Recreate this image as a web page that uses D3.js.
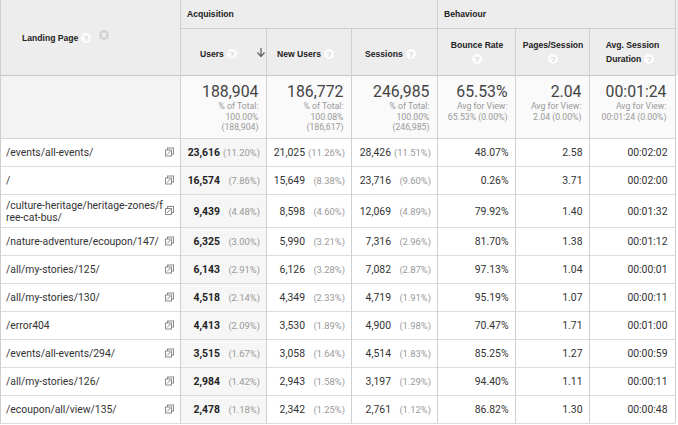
<!DOCTYPE html>
<html>
<head>
<meta charset="utf-8">
<script src="https://cdn.jsdelivr.net/npm/d3@7"></script>
<style>
html, body { margin: 0; padding: 0; background: #fff; overflow: hidden; }
svg { display: block; }
</style>
</head>
<body>
<div id="chart"></div>
<script>
// ---- data ----
var pages = ["/events/all-events/", "/", "/culture-heritage/heritage-zones/free-cat-bus/",
  "/nature-adventure/ecoupon/147/", "/all/my-stories/125/", "/all/my-stories/130/",
  "/error404", "/events/all-events/294/", "/all/my-stories/126/", "/ecoupon/all/view/135/"];
var users = [23616, 16574, 9439, 6325, 6143, 4518, 4413, 3515, 2984, 2478];
var usersPct = [11.20, 7.86, 4.48, 3.00, 2.91, 2.14, 2.09, 1.67, 1.42, 1.18];
var newUsers = [21025, 15649, 8598, 5990, 6126, 4349, 3530, 3058, 2943, 2342];
var newUsersPct = [11.26, 8.38, 4.60, 3.21, 3.28, 2.33, 1.89, 1.64, 1.58, 1.25];
var sessions = [28426, 23716, 12069, 7316, 7082, 4719, 4900, 4514, 3197, 2761];
var sessionsPct = [11.51, 9.60, 4.89, 2.96, 2.87, 1.91, 1.98, 1.83, 1.29, 1.12];
var bounceRate = [48.07, 0.26, 79.92, 81.70, 97.13, 95.19, 70.47, 85.25, 94.40, 86.82];
var pagesPerSession = [2.58, 3.71, 1.40, 1.38, 1.04, 1.07, 1.71, 1.27, 1.11, 1.30];
var sessionDuration = [122, 120, 92, 72, 1, 11, 60, 59, 11, 48]; // seconds

// totals row: users, new users, sessions, bounce rate, pages/session, avg duration (s)
var totalValues = [188904, 186772, 246985, 65.53, 2.04, 84];
var totalShare = [100.00, 100.08, 100.00];
var totalBase = [188904, 186617, 246985];
var viewChange = [0.00, 0.00, 0.00];

var groupLabels = ["Acquisition", "Behaviour"];

// ---- layout ----
var width = 678, height = 425;
var colKeys = ["page", "users", "newUsers", "sessions", "bounce", "pps", "duration"];
var colEdges = [0, 181, 267, 352, 438, 516, 590, 675];
var headTop = 28, headBottom = 75, totalsBottom = 138;
var rowH = 28, rowH2 = 33;

var fmtInt = d3.format(","), fmt2 = d3.format(".2f");
var fmtPct = function(v) { return "(" + fmt2(v) + "%)"; };
var fmtTime = function(s) {
  var p = d3.format("02d");
  return p(Math.floor(s / 3600)) + ":" + p(Math.floor(s / 60) % 60) + ":" + p(s % 60);
};

var x0 = d3.scaleOrdinal().domain(colKeys).range(colEdges.slice(0, -1));
var x1 = d3.scaleOrdinal().domain(colKeys).range(colEdges.slice(1));

var svg = d3.select("#chart").append("svg")
  .attr("width", width).attr("height", height)
  .style("font-family", "Roboto, Arial, sans-serif");

var dataFont = "Roboto, 'Liberation Sans', Arial, sans-serif";
var headFont = "'Liberation Sans', Arial, sans-serif";

// wrap landing pages by measured width
var measure = svg.append("text").style("font-size", "10.4px").style("font-family", dataFont);
function wrapChars(str, maxW) {
  var lines = [], cur = "";
  for (var i = 0; i < str.length; i++) {
    measure.text(cur + str[i]);
    if (cur && measure.node().getComputedTextLength() > maxW) { lines.push(cur); cur = str[i]; }
    else cur += str[i];
  }
  lines.push(cur);
  return lines;
}
var pageLines = pages.map(function(p) { return wrapChars(p, 158); });
measure.remove();

var rowHeights = pageLines.map(function(l) { return l.length > 1 ? rowH2 : rowH; });
var rowTops = [totalsBottom].concat(Array.from(d3.cumsum(rowHeights), function(h) { return totalsBottom + h; }));
var y = d3.scaleOrdinal().domain(d3.range(pages.length)).range(rowTops.slice(0, -1));
var yEnd = rowTops[rowTops.length - 1];

// ---- backgrounds ----
svg.append("rect").attr("x", 0).attr("y", 0).attr("width", width).attr("height", headBottom).attr("fill", "#ededed");
svg.append("rect").attr("x", 0).attr("y", headBottom).attr("width", x1("page")).attr("height", totalsBottom - headBottom).attr("fill", "#f3f3f3");
svg.append("rect").attr("x", x0("users")).attr("y", headBottom).attr("width", x1("duration") - x0("users"))
  .attr("height", totalsBottom - headBottom).attr("fill", "#fafafa");
// sorted column tint
svg.selectAll("rect.sort").data(d3.range(pages.length)).enter().append("rect")
  .attr("x", x0("users")).attr("y", function(i) { return y(i); })
  .attr("width", x1("users") - x0("users")).attr("height", function(i) { return rowHeights[i]; })
  .attr("fill", "#f6f6f6");

// ---- grid lines ----
var grid = svg.append("g").attr("fill", "none").attr("shape-rendering", "crispEdges");
// horizontal
grid.append("line").attr("x1", x0("users")).attr("x2", x1("duration")).attr("y1", headTop + 0.5).attr("y2", headTop + 0.5).attr("stroke", "#cfcfcf");
grid.append("line").attr("x1", 0).attr("x2", x1("duration")).attr("y1", headBottom + 0.5).attr("y2", headBottom + 0.5).attr("stroke", "#c8c8c8");
grid.append("line").attr("x1", 0).attr("x2", x1("duration")).attr("y1", totalsBottom + 0.5).attr("y2", totalsBottom + 0.5).attr("stroke", "#d6d6d6");
grid.selectAll("line.row").data(rowTops.slice(1)).enter().append("line")
  .attr("x1", 0).attr("x2", x1("duration"))
  .attr("y1", function(d) { return d + 0.5; }).attr("y2", function(d) { return d + 0.5; })
  .attr("stroke", "#dcdcdc");
// vertical
var vTop = { page: 0, users: 0, newUsers: headTop, sessions: headTop, bounce: 0, pps: headTop, duration: headTop };
grid.append("line").attr("x1", 0.5).attr("x2", 0.5).attr("y1", 0).attr("y2", yEnd).attr("stroke", "#cfcfcf");
grid.selectAll("line.col").data(colKeys.slice(1)).enter().append("line")
  .attr("x1", function(k) { return x0(k) - 0.5; }).attr("x2", function(k) { return x0(k) - 0.5; })
  .attr("y1", function(k) { return vTop[k]; }).attr("y2", yEnd).attr("stroke", "#d0d0d0");
grid.append("line").attr("x1", x1("duration") + 0.5).attr("x2", x1("duration") + 0.5).attr("y1", 0).attr("y2", yEnd).attr("stroke", "#cfcfcf");

// ---- header ----
var head = svg.append("g").style("font-family", headFont).style("font-size", "8.6px").style("font-weight", "bold").attr("fill", "#222");
head.append("text").attr("x", x0("users") + 6).attr("y", 17).text(groupLabels[0]);
head.append("text").attr("x", x0("bounce") + 6).attr("y", 17).text(groupLabels[1]);

function help(g, cx, cy) {
  g.append("circle").attr("cx", cx).attr("cy", cy).attr("r", 5).attr("fill", "#fcfcfc");
  g.append("text").attr("x", cx).attr("y", cy + 3).attr("text-anchor", "middle")
    .style("font-size", "8px").style("font-weight", "normal").attr("fill", "#c0c0c0").text("?");
}
head.append("text").attr("x", 22).attr("y", 41).text("Landing Page");
help(head, 86, 38);
head.append("circle").attr("cx", 104).attr("cy", 35).attr("r", 5).attr("fill", "#d2d2d2");
head.append("path").attr("d", "M101.8,32.8L106.2,37.2M106.2,32.8L101.8,37.2").attr("stroke", "#f4f4f4").attr("stroke-width", 1.3);

head.append("text").attr("x", x0("users") + 19).attr("y", 57).text("Users");
help(head, 232, 54);
head.append("path").attr("d", "M261,48V56M257.5,52.5L261,56.5L264.5,52.5").attr("fill", "none").attr("stroke", "#666").attr("stroke-width", 1.3);
head.append("text").attr("x", x0("newUsers") + 10).attr("y", 57).text("New Users");
help(head, 329, 54);
head.append("text").attr("x", x0("sessions") + 13).attr("y", 57).text("Sessions");
help(head, 411, 54);

var mid = function(k) { return (x0(k) + x1(k)) / 2; };
head.append("text").attr("x", mid("bounce")).attr("y", 48).attr("text-anchor", "middle").text("Bounce Rate");
help(head, mid("bounce"), 59);
head.append("text").attr("x", mid("pps")).attr("y", 48).attr("text-anchor", "middle").text("Pages/Session");
help(head, mid("pps"), 59);
head.append("text").attr("x", mid("duration")).attr("y", 48).attr("text-anchor", "middle").text("Avg. Session");
head.append("text").attr("x", x0("duration") + 16).attr("y", 62).text("Duration");
help(head, 649, 59);

// ---- totals row ----
var totals = svg.append("g").style("font-family", dataFont);
var totalKeys = colKeys.slice(1);
var totalText = [fmtInt(totalValues[0]), fmtInt(totalValues[1]), fmtInt(totalValues[2]),
  fmt2(totalValues[3]) + "%", fmt2(totalValues[4]), fmtTime(totalValues[5])];
var totalSub = [0, 1, 2].map(function(i) {
  return ["% of Total:", fmt2(totalShare[i]) + "%", "(" + fmtInt(totalBase[i]) + ")"];
}).concat([3, 4, 5].map(function(i, j) {
  return ["Avg for View:", totalText[i] + " (" + fmt2(viewChange[j]) + "%)"];
}));
totalKeys.forEach(function(k, i) {
  var rx = x1(k) - 8.5;
  totals.append("text").attr("x", rx).attr("y", 97).attr("text-anchor", "end")
    .style("font-size", "15.8px").attr("fill", "#444").text(totalText[i]);
  totals.selectAll(null).data(totalSub[i]).enter().append("text")
    .attr("x", rx).attr("y", function(d, j) { return 109 + j * 10.6; })
    .attr("text-anchor", "end").style("font-size", "8.7px").attr("fill", "#999")
    .text(function(d) { return d; });
});

// ---- body rows ----
var body = svg.append("g").style("font-family", dataFont).style("font-size", "10.4px");
var rows = body.selectAll("g.row").data(d3.range(pages.length)).enter().append("g")
  .attr("transform", function(i) { return "translate(0," + y(i) + ")"; });
var cy = function(i) { return rowHeights[i] / 2 + 4; };

rows.each(function(i) {
  var g = d3.select(this), lines = pageLines[i];
  var t0 = rowHeights[i] / 2 + 4 - (lines.length - 1) * 6;
  g.selectAll("text.page").data(lines).enter().append("text")
    .attr("x", 6).attr("y", function(d, j) { return t0 + j * 12; })
    .attr("fill", "#333").text(function(d) { return d; });
  // open-in-new icon
  var ix = 165, iy = rowHeights[i] / 2 - 4.5;
  g.append("rect").attr("x", ix + 2.5).attr("y", iy + 0.5).attr("width", 6).attr("height", 6)
    .attr("fill", "none").attr("stroke", "#8a8a8a");
  g.append("rect").attr("x", ix + 0.5).attr("y", iy + 2.5).attr("width", 6).attr("height", 6)
    .attr("fill", "#fff").attr("stroke", "#8a8a8a");
  g.append("path").attr("d", "M" + (ix + 2) + "," + (iy + 7) + "L" + (ix + 5.5) + "," + (iy + 3.5))
    .attr("stroke", "#8a8a8a");
});

function valPct(key, vals, pcts, bold) {
  rows.append("text").attr("x", x1(key) - 47).attr("y", cy).attr("text-anchor", "end")
    .style("font-weight", bold ? "bold" : "normal").attr("fill", bold ? "#222" : "#333")
    .text(function(i) { return fmtInt(vals[i]); });
  rows.append("text").attr("x", x1(key) - 7).attr("y", cy).attr("text-anchor", "end")
    .style("font-size", "9.4px").attr("fill", "#999").text(function(i) { return fmtPct(pcts[i]); });
}
valPct("users", users, usersPct, true);
valPct("newUsers", newUsers, newUsersPct, false);
valPct("sessions", sessions, sessionsPct, false);

function plain(key, fn) {
  rows.append("text").attr("x", x1(key) - 7.5).attr("y", cy).attr("text-anchor", "end")
    .attr("fill", "#333").text(fn);
}
plain("bounce", function(i) { return fmt2(bounceRate[i]) + "%"; });
plain("pps", function(i) { return fmt2(pagesPerSession[i]); });
plain("duration", function(i) { return fmtTime(sessionDuration[i]); });
</script>
</body>
</html>
